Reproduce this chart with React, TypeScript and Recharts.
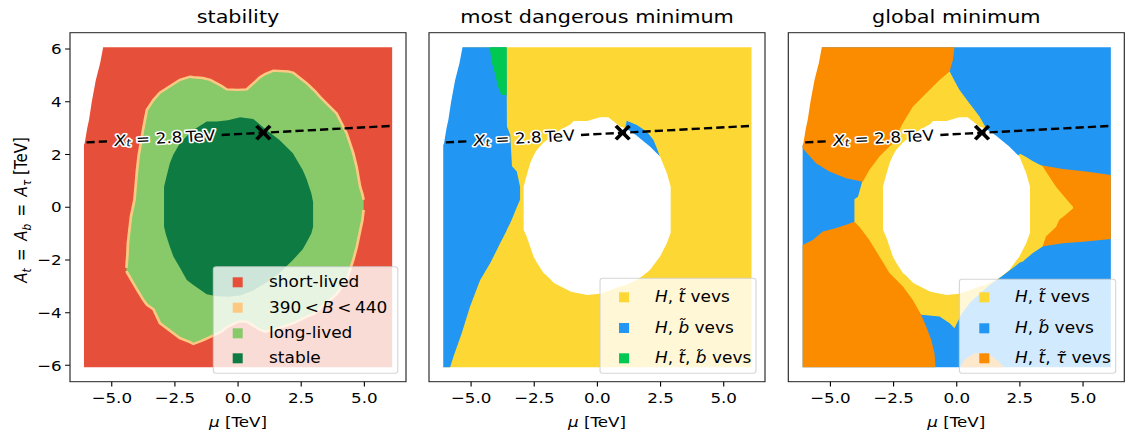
import type { ReactNode } from 'react'
import { ComposedChart, Area, Line, Scatter, XAxis, YAxis } from 'recharts'

// ─── Data ─────────────────────────────────────────────────────────────────────
// Every region is a band over μ: [μ, A_low, A_high] (all in TeV)
type Band = [number, number, number]

const MU_TICKS = [-5, -2.5, 0, 2.5, 5]
const A_TICKS = [-6, -4, -2, 0, 2, 4, 6]

// full scan rectangle and the un-scanned corner at the top left
const SCAN_BOX: Band[] = [[-6.1, -6.07, 6.07], [6.1, -6.07, 6.07]]
const SCAN_NOTCH: Band[] = [
  [-6.14, 2.3, 6.12], [-6.07, 2.43, 6.12], [-5.97, 3.0, 6.12], [-5.9, 3.31, 6.12],
  [-5.79, 4.0, 6.12], [-5.63, 4.83, 6.12], [-5.46, 5.46, 6.12], [-5.34, 6.07, 6.12],
]

// stability
const LONG_LIVED: Band[] = [
  [-4.42, -2.42, -2.3], [-4.38, -2.5, -1.8], [-4.36, -2.53, -1.36], [-4.24, -2.73, -0.36],
  [-4.1, -2.96, 0.28], [-4.0, -3.12, 1.4], [-3.94, -3.22, 1.92], [-3.75, -3.52, 3.0],
  [-3.61, -3.7, 3.69], [-3.35, -3.87, 4.07], [-3.09, -4.4, 4.35], [-2.3, -4.97, 4.83],
  [-1.9, -5.12, 4.95], [-1.77, -5.19, 4.93], [-1.4, -5.05, 4.9], [-1.1, -4.92, 4.83],
  [-0.65, -4.72, 4.6], [-0.45, -4.55, 4.47], [0.0, -4.34, 4.45], [0.34, -4.34, 4.47],
  [0.87, -4.65, 4.93], [1.07, -4.72, 5.05], [1.4, -4.65, 5.18], [1.99, -4.46, 5.15],
  [2.19, -4.4, 5.1], [2.72, -4.15, 4.7], [3.05, -4.02, 4.4], [3.24, -3.85, 4.19],
  [3.9, -3.3, 3.56], [4.3, -2.76, 2.8], [4.56, -2.0, 2.05], [4.7, -1.5, 1.5],
  [4.83, -0.9, 0.78], [4.92, -0.5, 0.5], [4.97, -0.1, 0.28],
]
const STABLE: Band[] = [
  [-2.93, -0.74, 0.78], [-2.85, -1.05, 1.1], [-2.7, -1.5, 1.67], [-2.56, -1.87, 2.0],
  [-2.3, -2.3, 2.43], [-2.03, -2.76, 2.7], [-1.77, -2.95, 2.93], [-1.24, -3.3, 3.25],
  [-0.84, -3.38, 3.25], [-0.4, -3.4, 3.3], [0.08, -3.35, 3.41], [0.6, -3.16, 3.35],
  [1.12, -2.86, 2.93], [1.64, -2.5, 2.55], [2.17, -2.0, 2.05], [2.56, -1.6, 1.41],
  [2.7, -1.36, 1.1], [2.9, -1.0, 0.53], [2.97, -0.74, 0.2],
]

// most dangerous minimum
const MD_SBOTTOM: Band[] = [
  [-6.1, -6.07, 6.07], [-5.83, -6.07, 6.07], [-5.7, -5.67, 6.07], [-5.37, -4.78, 6.07],
  [-5.04, -3.77, 6.07], [-4.64, -2.76, 6.07], [-4.24, -2.12, 6.07], [-3.85, -1.37, 6.07],
  [-3.6, -0.9, 6.07], [-3.58, -0.85, 3.06], [-3.45, -0.6, 2.75], [-3.38, -0.45, 1.55],
  [-3.19, 0.0, 1.35], [-3.06, 0.28, 0.78],
]
const MD_MIXED: Band[] = [
  [-4.25, 5.95, 6.07], [-4.19, 5.53, 6.07], [-4.06, 5.08, 6.07],
  [-3.93, 4.57, 6.07], [-3.8, 4.26, 6.07], [-3.59, 4.26, 6.07],
]
const MD_SBOTTOM_CAP: Band[] = [
  [1.1, 2.9, 3.02], [1.16, 2.5, 3.28], [1.56, 2.3, 3.12], [1.95, 2.0, 2.87],
  [2.22, 1.8, 2.55], [2.38, 1.7, 2.17], [2.45, 1.8, 1.98],
]
// no minimum found (white hole), same in both right panels
const NO_MINIMUM: Band[] = [
  [-2.92, -0.86, 0.78], [-2.8, -1.11, 1.2], [-2.66, -1.5, 1.67], [-2.53, -1.87, 1.95],
  [-2.4, -2.1, 2.17], [-2.13, -2.5, 2.45], [-2.0, -2.6, 2.55], [-1.72, -2.88, 2.75],
  [-1.47, -3.0, 2.93], [-1.06, -3.2, 3.15], [-0.94, -3.23, 3.27], [-0.4, -3.33, 3.27],
  [0.1, -3.28, 3.41], [0.43, -3.18, 3.41], [0.9, -3.01, 3.06], [1.16, -2.93, 2.98],
  [1.55, -2.76, 2.72], [1.8, -2.6, 2.52], [2.08, -2.38, 2.3], [2.48, -1.87, 1.92],
  [2.75, -1.37, 1.29], [2.9, -0.97, 0.78],
]

// global minimum
const GM_STAU_RIGHT: Band[] = [
  [3.3, -1.5, 1.6], [4.2, -1.37, 1.45], [5.12, -1.3, 1.35], [6.1, -1.21, 1.22],
]
const GM_STOP: Band[] = [
  [-4.05, -0.6, 0.3], [-3.91, -0.75, 0.4], [-3.85, -0.85, 0.6], [-3.72, -1.0, 1.05],
  [-3.6, -1.2, 5.2], [-3.0, -2.5, 5.2], [-2.0, -3.5, 5.2], [-1.41, -4.08, 5.2],
  [-0.68, -4.15, 5.2], [-0.28, -4.4, 5.15], [-0.09, -4.59, 4.8], [0.11, -4.2, 4.45],
  [0.17, -4.08, 4.37], [0.5, -3.65, 3.94], [0.63, -3.52, 3.78], [0.9, -3.3, 3.44],
  [1.16, -3.07, 3.0], [1.3, -2.95, 2.6], [1.69, -2.69, 2.2], [2.22, -2.31, 1.75],
  [2.5, -2.1, 2.03], [2.62, -2.06, 1.97], [2.75, -1.95, 1.9], [3.0, -1.75, 1.75],
  [3.4, -1.49, 1.55], [3.53, -1.11, 1.35], [3.93, -0.75, 0.78], [4.06, -0.48, 0.62],
  [4.3, -0.3, 0.35], [4.6, -0.05, 0.02],
]
const GM_STAU_UPPER: Band[] = [
  [-6.1, 2.24, 6.07], [-5.57, 1.67, 6.07], [-5.04, 1.35, 6.07], [-4.38, 1.1, 6.07],
  [-3.72, 0.97, 6.07], [-3.46, 1.41, 6.07], [-3.06, 1.92, 6.07], [-2.53, 2.43, 6.07],
  [-2.13, 3.19, 6.07], [-1.74, 3.81, 6.07], [-1.21, 4.32, 6.07], [-0.68, 4.83, 6.07],
  [-0.28, 5.15, 6.07], [-0.15, 5.59, 6.07], [-0.09, 6.07, 6.07],
]
const GM_STAU_LOWER: Band[] = [
  [-6.1, -6.07, -1.43], [-5.7, -6.07, -1.24], [-5.3, -6.07, -0.92], [-4.8, -6.07, -0.8],
  [-4.38, -6.07, -0.67], [-4.05, -6.07, -0.55], [-3.85, -6.07, -0.74], [-3.46, -6.07, -1.24],
  [-3.06, -6.07, -1.87], [-2.66, -6.07, -2.5], [-2.13, -6.07, -3.01], [-1.74, -6.07, -3.52],
  [-1.41, -6.07, -4.08], [-1.21, -6.07, -4.53], [-1.01, -6.07, -5.03], [-0.88, -6.07, -5.54],
  [-0.84, -6.07, -6.04],
]
const GM_STAU_BOTTOM: Band[] = [
  [0.15, -6.07, -6.05], [0.35, -6.07, -5.75], [0.7, -6.07, -5.55], [1.0, -6.07, -5.53],
  [1.4, -6.07, -5.65], [1.65, -6.07, -5.85], [1.85, -6.07, -6.05],
]

// X_t = 2.8 TeV contour and the benchmark point
const XT_LINE_LEFT = [{ x: -6.0, y: 2.46 }, { x: -5.15, y: 2.5 }]
const XT_LINE_RIGHT = [{ x: -0.65, y: 2.74 }, { x: 6.0, y: 3.08 }]
const XT_LABEL_AT = [{ x: -2.9, y: 2.64 }]
const BENCHMARK = [{ x: 1.0, y: 2.83 }]

// ─── Style ────────────────────────────────────────────────────────────────────

const RED = '#e6503a'
const BEIGE = '#fdc982'
const LIGHT_GREEN = '#88c96a'
const DARK_GREEN = '#0e7c42'
const YELLOW = '#fdd835'
const BLUE = '#2196f3'
const GREEN = '#00c853'
const ORANGE = '#fb8c00'
const FONT = '"DejaVu Sans", sans-serif'

// the reference figure is stretched horizontally, so everything is laid out
// in unstretched units and scaled by S at the end
const S = 1.13
const FIG_W = 1125 / S
const FIG_H = 434
const PLOT_TOP = 32.7
const PLOT_H = 349
const PLOT_W = 336 / S
const Y_AXIS_W = 60
const PLOT_LEFTS = [70 / S, 429 / S, 788.3 / S]
const MU_DOMAIN: [number, number] = [-6.65, 6.65]
const A_DOMAIN: [number, number] = [-6.62, 6.62]

const it = (s: string) => <tspan fontStyle="italic">{s}</tspan>
const SP = '\u2009' // thin space, as in mathtext

const STABILITY_LEGEND = [
  { color: RED, label: <>short-lived</> },
  { color: BEIGE, label: <>{`390${SP}<${SP}`}{it('B')}{`${SP}<${SP}440`}</> },
  { color: LIGHT_GREEN, label: <>long-lived</> },
  { color: DARK_GREEN, label: <>stable</> },
]
const MD_LEGEND = [
  { color: YELLOW, label: <>{it('H')}{', '}{it('t\u0303')}{' vevs'}</> },
  { color: BLUE, label: <>{it('H')}{', '}{it('b\u0303')}{' vevs'}</> },
  { color: GREEN, label: <>{it('H')}{', '}{it('t\u0303')}{', '}{it('b\u0303')}{' vevs'}</> },
]
const GM_LEGEND = [
  { color: YELLOW, label: <>{it('H')}{', '}{it('t\u0303')}{' vevs'}</> },
  { color: BLUE, label: <>{it('H')}{', '}{it('b\u0303')}{' vevs'}</> },
  { color: ORANGE, label: <>{it('H')}{', '}{it('t\u0303')}{', '}{it('\u03c4\u0303')}{' vevs'}</> },
]

type Layer = { data: Band[]; fill: string; stroke?: string }
type LegendRow = { color: string; label: ReactNode }

const PANELS: {
  title: string
  layers: Layer[]
  legend: LegendRow[]
  box: [number, number, number, number] // x0, x1 (rel. to plot left), y0, y1
  markX: number
  textX: number
  rows: number[]
}[] = [
  {
    title: 'stability',
    layers: [
      { data: SCAN_BOX, fill: RED },
      { data: LONG_LIVED, fill: LIGHT_GREEN, stroke: BEIGE },
      { data: STABLE, fill: DARK_GREEN },
    ],
    legend: STABILITY_LEGEND,
    box: [126.85, 290.05, 266.7, 373.3],
    markX: 148.4,
    textX: 176.15,
    rows: [282.3, 307.7, 333.3, 358.3],
  },
  {
    title: 'most dangerous minimum',
    layers: [
      { data: SCAN_BOX, fill: YELLOW },
      { data: MD_SBOTTOM, fill: BLUE },
      { data: MD_MIXED, fill: GREEN },
      { data: MD_SBOTTOM_CAP, fill: BLUE },
      { data: NO_MINIMUM, fill: '#ffffff' },
    ],
    legend: MD_LEGEND,
    box: [151.35, 289.35, 278.3, 373.3],
    markX: 172.6,
    textX: 199.95,
    rows: [297.3, 328.0, 358.3],
  },
  {
    title: 'global minimum',
    layers: [
      { data: SCAN_BOX, fill: BLUE },
      { data: GM_STAU_RIGHT, fill: ORANGE },
      { data: GM_STOP, fill: YELLOW },
      { data: GM_STAU_UPPER, fill: ORANGE },
      { data: GM_STAU_LOWER, fill: ORANGE },
      { data: GM_STAU_BOTTOM, fill: ORANGE },
      { data: NO_MINIMUM, fill: '#ffffff' },
    ],
    legend: GM_LEGEND,
    box: [151.4, 289.7, 279.3, 373.3],
    markX: 173.45,
    textX: 200.6,
    rows: [297.3, 328.3, 358.3],
  },
]

const toArea = (bands: Band[]) => bands.map(([x, lo, hi]) => ({ x, y: [lo, hi] }))

const fmtMu = (v: number) => (v < 0 ? '\u2212' : '') + Math.abs(v).toFixed(1)
const fmtA = (v: number) => (v < 0 ? '\u2212' : '') + Math.abs(v)

// ─── Marks ────────────────────────────────────────────────────────────────────

// eslint-disable-next-line @typescript-eslint/no-explicit-any
function XtLabel(props: any) {
  const { cx, cy } = props
  return (
    <text
      x={cx} y={cy} transform={`rotate(-3.5 ${cx} ${cy})`}
      textAnchor="middle" dominantBaseline="central"
      fontFamily={FONT} fontSize={15} fill="#000"
      stroke="#fff" strokeWidth={3} strokeLinejoin="round" paintOrder="stroke"
    >
      {it('X')}
      <tspan fontStyle="italic" fontSize={10.5} dy={3}>t</tspan>
      <tspan dy={-3}>{' = 2.8\u2009TeV'}</tspan>
    </text>
  )
}

// eslint-disable-next-line @typescript-eslint/no-explicit-any
function Cross(props: any) {
  const { cx, cy } = props
  const h = 6.0
  const v = 6.8
  return (
    <g stroke="#000" strokeWidth={3.3}>
      <line x1={cx - h} y1={cy - v} x2={cx + h} y2={cy + v} />
      <line x1={cx - h} y1={cy + v} x2={cx + h} y2={cy - v} />
    </g>
  )
}

// ─── Component ────────────────────────────────────────────────────────────────

export default function App() {
  const tickStyle = { fill: '#000', fontSize: 14.8, fontFamily: FONT }
  const eq = '\u2002=\u2002'
  return (
    <div style={{
      position: 'absolute', left: 0, top: 0, width: FIG_W, height: FIG_H,
      background: '#fff', transform: `scaleX(${S})`, transformOrigin: '0 0',
    }}>
      {PANELS.map((p, i) => (
        <div key={p.title} style={{ position: 'absolute', left: PLOT_LEFTS[i] - Y_AXIS_W, top: 0 }}>
          <ComposedChart
            width={Y_AXIS_W + PLOT_W + 4}
            height={FIG_H}
            margin={{ top: PLOT_TOP, right: 4, bottom: 0, left: 0 }}
          >
            <XAxis
              type="number" dataKey="x" domain={MU_DOMAIN} ticks={MU_TICKS} interval={0}
              allowDataOverflow axisLine={false} stroke="#000"
              tickSize={4.9} tickMargin={6} height={FIG_H - PLOT_TOP - PLOT_H}
              tick={tickStyle} tickFormatter={fmtMu}
            />
            <YAxis
              type="number" dataKey="y" domain={A_DOMAIN} ticks={A_TICKS} interval={0}
              allowDataOverflow axisLine={false} stroke="#000" width={Y_AXIS_W}
              tickSize={4.4} tickMargin={3}
              tick={i === 0 ? tickStyle : false} tickFormatter={fmtA}
            />
            {[...p.layers, { data: SCAN_NOTCH, fill: '#ffffff' }].map((l: Layer, j) => (
              <Area
                key={j}
                data={toArea(l.data)}
                dataKey="y"
                type="linear"
                fill={l.fill}
                fillOpacity={1}
                stroke={l.stroke ?? 'none'}
                strokeWidth={l.stroke ? 2.4 : 0}
                dot={false}
                activeDot={false}
                isAnimationActive={false}
              />
            ))}
            {[XT_LINE_LEFT, XT_LINE_RIGHT].map((d, j) => (
              <Line
                key={j} data={d} dataKey="y" type="linear"
                stroke="#000" strokeWidth={2.4} strokeDasharray="7.3 3.6"
                dot={false} activeDot={false} isAnimationActive={false}
              />
            ))}
            <Scatter data={XT_LABEL_AT} dataKey="y" shape={XtLabel} isAnimationActive={false} />
            <Scatter data={BENCHMARK} dataKey="y" shape={Cross} isAnimationActive={false} />
          </ComposedChart>
        </div>
      ))}

      {/* Frames, titles, axis labels and legends */}
      <svg width={FIG_W} height={FIG_H} style={{ position: 'absolute', left: 0, top: 0, pointerEvents: 'none' }}
        fontFamily={FONT}>
        {PANELS.map((p, i) => {
          const x0 = PLOT_LEFTS[i]
          const [b0, b1, by0, by1] = p.box
          return (
            <g key={p.title}>
              <rect x={x0} y={PLOT_TOP} width={PLOT_W} height={PLOT_H} fill="none" stroke="#222" strokeWidth={1} />
              <text x={x0 + PLOT_W / 2} y={23.5} textAnchor="middle" fontSize={18.4} fill="#000">{p.title}</text>
              <text x={x0 + PLOT_W / 2} y={427.5} textAnchor="middle" fontSize={14.8} fill="#000">
                {it('\u03bc')}{' [TeV]'}
              </text>
              <rect x={x0 + b0} y={by0} width={b1 - b0} height={by1 - by0} rx={2.5}
                fill="rgba(255,255,255,0.8)" stroke="rgba(204,204,204,0.8)" strokeWidth={1} />
              {p.legend.map((r, k) => (
                <g key={k}>
                  <rect x={x0 + p.markX - 4.42} y={p.rows[k] - 5} width={8.85} height={10} fill={r.color} />
                  <text x={x0 + p.textX} y={p.rows[k] + 5} fontSize={15} fill="#000">{r.label}</text>
                </g>
              ))}
            </g>
          )
        })}
        <text x={23.5} y={210} transform="rotate(-90 23.5 210)" textAnchor="middle" fontSize={15} fill="#000">
          {it('A')}<tspan fontStyle="italic" fontSize={10.5} dy={3.5}>t</tspan>
          <tspan dy={-3.5}>{eq}</tspan>{it('A')}<tspan fontStyle="italic" fontSize={10.5} dy={3.5}>b</tspan>
          <tspan dy={-3.5}>{eq}</tspan>{it('A')}<tspan fontStyle="italic" fontSize={10.5} dy={3.5}>{'\u03c4'}</tspan>
          <tspan dy={-3.5}>{' [TeV]'}</tspan>
        </text>
      </svg>
    </div>
  )
}
